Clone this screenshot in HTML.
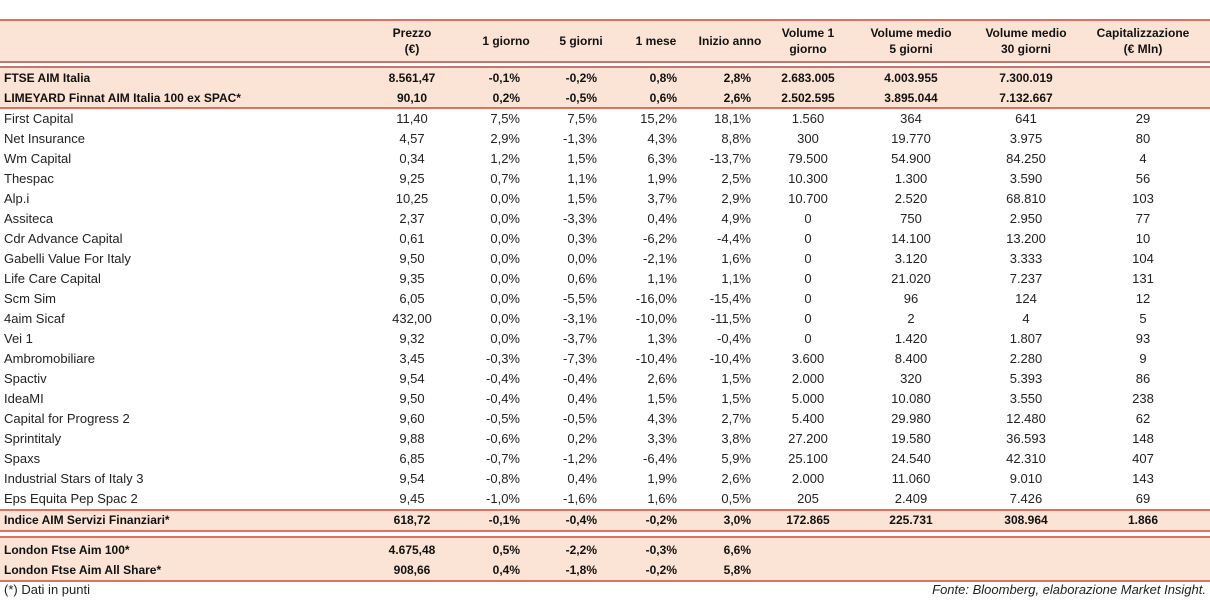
<!DOCTYPE html>
<html><head><meta charset="utf-8">
<style>
body{margin:0;width:1210px;height:601px;background:#fff;position:relative;overflow:hidden;font-family:"Liberation Sans",sans-serif;color:#222}
.bg{position:absolute;left:0;width:1210px;background:#fbe4d5}
.ln{position:absolute;left:0;width:1210px;height:2px;background:#e07060}
.c{position:absolute;font-size:13px;line-height:20px;white-space:nowrap}
.b{font-weight:bold;font-size:12px;color:#111}
.h{position:absolute;font-weight:bold;font-size:12px;line-height:16px;text-align:center;color:#111}
</style></head><body>
<div class="bg" style="top:20px;height:42px"></div>
<div class="bg" style="top:67px;height:41px"></div>
<div class="bg" style="top:510px;height:20px"></div>
<div class="bg" style="top:537px;height:43px"></div>
<div class="ln" style="top:19px"></div>
<div class="ln" style="top:61px;background:#c07870"></div>
<div class="ln" style="top:66px;background:#c07870"></div>
<div class="ln" style="top:107px"></div>
<div class="ln" style="top:509px"></div>
<div class="ln" style="top:530px"></div>
<div class="ln" style="top:536px"></div>
<div class="ln" style="top:580px"></div>
<div class="c" style="left:4px;top:580px">(*) Dati in punti</div>
<div class="c" style="right:4px;top:580px;font-style:italic">Fonte: Bloomberg, elaborazione Market Insight.</div>
<div id="t"></div>
<script>
const headers=["Prezzo<br>(€)","1 giorno","5 giorni","1 mese","Inizio anno","Volume 1<br>giorno","Volume medio<br>5 giorni","Volume medio<br>30 giorni","Capitalizzazione<br>(€ Mln)"];
const names=["FTSE AIM Italia","LIMEYARD Finnat AIM Italia 100 ex SPAC*","First Capital","Net Insurance","Wm Capital","Thespac","Alp.i","Assiteca","Cdr Advance Capital","Gabelli Value For Italy","Life Care Capital","Scm Sim","4aim Sicaf","Vei 1","Ambromobiliare","Spactiv","IdeaMI","Capital for Progress 2","Sprintitaly","Spaxs","Industrial Stars of Italy 3","Eps Equita Pep Spac 2","Indice AIM Servizi Finanziari*","London Ftse Aim 100*","London Ftse Aim All Share*"];
const prices=["8.561,47","90,10","11,40","4,57","0,34","9,25","10,25","2,37","0,61","9,50","9,35","6,05","432,00","9,32","3,45","9,54","9,50","9,60","9,88","6,85","9,54","9,45","618,72","4.675,48","908,66"];
const d1=["-0,1%","0,2%","7,5%","2,9%","1,2%","0,7%","0,0%","0,0%","0,0%","0,0%","0,0%","0,0%","0,0%","0,0%","-0,3%","-0,4%","-0,4%","-0,5%","-0,6%","-0,7%","-0,8%","-1,0%","-0,1%","0,5%","0,4%"];
const d5=["-0,2%","-0,5%","7,5%","-1,3%","1,5%","1,1%","1,5%","-3,3%","0,3%","0,0%","0,6%","-5,5%","-3,1%","-3,7%","-7,3%","-0,4%","0,4%","-0,5%","0,2%","-1,2%","0,4%","-1,6%","-0,4%","-2,2%","-1,8%"];
const m1=["0,8%","0,6%","15,2%","4,3%","6,3%","1,9%","3,7%","0,4%","-6,2%","-2,1%","1,1%","-16,0%","-10,0%","1,3%","-10,4%","2,6%","1,5%","4,3%","3,3%","-6,4%","1,9%","1,6%","-0,2%","-0,3%","-0,2%"];
const ytd=["2,8%","2,6%","18,1%","8,8%","-13,7%","2,5%","2,9%","4,9%","-4,4%","1,6%","1,1%","-15,4%","-11,5%","-0,4%","-10,4%","1,5%","1,5%","2,7%","3,8%","5,9%","2,6%","0,5%","3,0%","6,6%","5,8%"];
const vol1=["2.683.005","2.502.595","1.560","300","79.500","10.300","10.700","0","0","0","0","0","0","0","3.600","2.000","5.000","5.400","27.200","25.100","2.000","205","172.865","",""];
const vol5=["4.003.955","3.895.044","364","19.770","54.900","1.300","2.520","750","14.100","3.120","21.020","96","2","1.420","8.400","320","10.080","29.980","19.580","24.540","11.060","2.409","225.731","",""];
const vol30=["7.300.019","7.132.667","641","3.975","84.250","3.590","68.810","2.950","13.200","3.333","7.237","124","4","1.807","2.280","5.393","3.550","12.480","36.593","42.310","9.010","7.426","308.964","",""];
const caps=["","","29","80","4","56","103","77","10","104","131","12","5","93","9","86","238","62","148","407","143","69","1.866","",""];
const cols=[[prices,412,"c"],[d1,520,"r"],[d5,597,"r"],[m1,677,"r"],[ytd,751,"r"],[vol1,808,"c"],[vol5,911,"c"],[vol30,1026,"c"],[caps,1143,"c"]];
const hx=[412,506,581,656,730,808,911,1026,1143];
const T=document.getElementById('t');
function rowTop(i){ if(i<2) return 68+i*20; if(i<22) return 109+(i-2)*20; if(i==22) return 510; return 540+(i-23)*20; }
function bold(i){return i<2||i>=22;}
headers.forEach((h,j)=>{
  const e=document.createElement('div');e.className='h';
  
  
  e.innerHTML=h;
  const two=h.includes('<br>');
  e.style.left=(hx[j]-70)+'px';e.style.width='140px';e.style.top=(two?25:33)+'px';
  T.appendChild(e);
});
names.forEach((n,i)=>{
  const e=document.createElement('div');e.className='c'+(bold(i)?' b':'');
  
  
  e.textContent=n;e.style.left='4px';e.style.top=rowTop(i)+'px';T.appendChild(e);
  cols.forEach(([arr,x,al])=>{
    if(!arr[i])return;
    const v=document.createElement('div');v.className='c'+(bold(i)?' b':'');
    
    
    v.textContent=arr[i];v.style.top=rowTop(i)+'px';
    if(al=='r'){v.style.right=(1210-x)+'px';}
    else{v.style.left=(x-60)+'px';v.style.width='120px';v.style.textAlign='center';}
    T.appendChild(v);
  });
});
</script>
</body></html>
